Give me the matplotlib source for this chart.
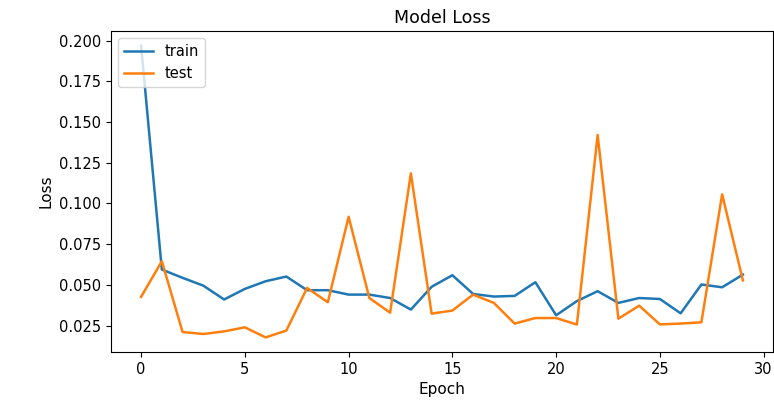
import matplotlib
matplotlib.use('Agg')
from matplotlib import pyplot as plt

# loss per epoch
epochs = list(range(30))
train_loss = [0.197, 0.0594, 0.0543, 0.0495, 0.0410, 0.0475, 0.0522, 0.0551, 0.0467, 0.0467,
              0.0440, 0.0440, 0.0419, 0.0348, 0.0488, 0.0559, 0.0444, 0.0428, 0.0432, 0.0516,
              0.0313, 0.0400, 0.0461, 0.0389, 0.0419, 0.0413, 0.0325, 0.0502, 0.0485, 0.0563]
test_loss = [0.0426, 0.0645, 0.0210, 0.0198, 0.0214, 0.0239, 0.0177, 0.0219, 0.0481, 0.0393,
             0.0918, 0.0419, 0.0329, 0.1185, 0.0323, 0.0342, 0.0440, 0.0389, 0.0262, 0.0296,
             0.0296, 0.0256, 0.1421, 0.0292, 0.0372, 0.0257, 0.0262, 0.0270, 0.1056, 0.0527]

fig = plt.figure(figsize=(7.74, 4.0), dpi=100)
ax = fig.add_axes([0.1434, 0.12, 0.8553, 0.8025])

ax.plot(epochs, train_loss, lw=1.8)
ax.plot(epochs, test_loss, lw=1.8)
ax.set_title('Model Loss', fontsize=12.5)
ax.set_ylabel('Loss', fontsize=11)
ax.set_xlabel('Epoch', fontsize=11)
ax.tick_params(labelsize=10.5)
ax.legend(['train', 'test'], loc='upper left', fontsize=10.5)

fig.savefig('out.png', dpi=100, facecolor='white')
